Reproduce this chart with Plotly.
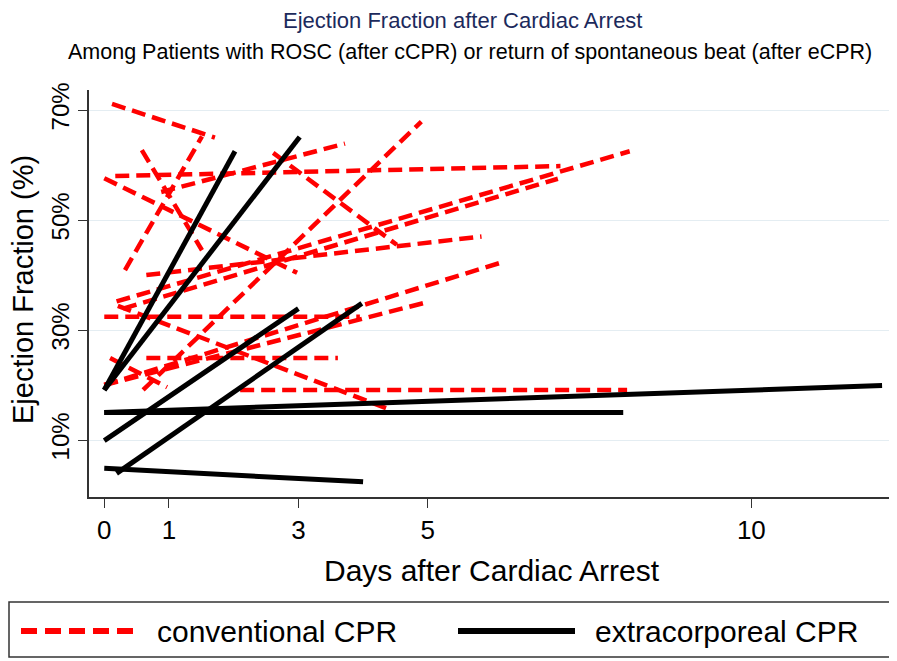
import plotly.graph_objects as go

# conventional CPR: first and last ejection fraction per patient (days, %)
ccpr_day_start = [0.12, 0.32, 0.58, 0.0, 0.17, 0.88, 0.6, 2.61, 0.65, 0.19, 0.29, 0.0, 0.21, 0.0, 0.0, 0.09, 0.65, 2.1]
ccpr_ef_start = [71.1, 40.9, 62.7, 57.6, 58.0, 55.1, 19.1, 62.2, 40.0, 35.2, 33.9, 32.4, 34.4, 20.0, 20.0, 24.9, 24.9, 19.1]
ccpr_day_end = [1.71, 1.51, 1.51, 2.98, 7.05, 3.72, 4.9, 4.52, 5.83, 8.12, 7.01, 3.95, 4.43, 6.17, 5.0, 0.97, 3.61, 8.08]
ccpr_ef_end = [65.0, 65.2, 44.5, 40.4, 59.8, 63.9, 67.9, 45.5, 47.0, 62.5, 57.5, 32.4, 15.45, 42.4, 35.1, 19.6, 24.9, 19.1]

# extracorporeal CPR
ecpr_day_start = [0.0, 0.0, 0.0, 0.0, 0.0, 0.19, 0.0]
ecpr_ef_start = [19.1, 19.1, 15.0, 15.0, 4.85, 3.94, 9.9]
ecpr_day_end = [2.02, 3.02, 8.02, 12.02, 4.0, 3.98, 3.0]
ecpr_ef_end = [62.5, 65.1, 15.0, 19.9, 2.4, 34.85, 33.9]

x_ticks = [0, 1, 3, 5, 10]
y_ticks = [10, 30, 50, 70]
y_labels = ["10%", "30%", "50%", "70%"]

FONT = "Liberation Sans, Arial, sans-serif"


def segments(d0, e0, d1, e1):
    xs, ys = [], []
    for a, b, c, d in zip(d0, e0, d1, e1):
        xs += [a, c, None]
        ys += [b, d, None]
    return xs, ys


fig = go.Figure()

cx, cy = segments(ccpr_day_start, ccpr_ef_start, ccpr_day_end, ccpr_ef_end)
fig.add_trace(go.Scatter(x=cx, y=cy, mode="lines", name="conventional CPR",
                         line=dict(color="#ff0000", width=4.5, dash="14px,7px"),
                         showlegend=False))

ex, ey = segments(ecpr_day_start, ecpr_ef_start, ecpr_day_end, ecpr_ef_end)
fig.add_trace(go.Scatter(x=ex, y=ey, mode="lines", name="extracorporeal CPR",
                         line=dict(color="#000000", width=5),
                         showlegend=False))

# the page body adds an 8px margin, so the figure is a bit smaller
OFF = 8
W, H = 897 - OFF, 661 - OFF
L, R, T, B = 89 - OFF, 2, 90 - OFF, 164
pw, ph = W - L - R, H - T - B


def px(x):  # window pixel -> paper x
    return (x - OFF - L) / pw


def py(y):  # window pixel -> paper y
    return (H - B - (y - OFF)) / ph


# legend box drawn by hand (Stata style)
fig.add_shape(type="rect", xref="paper", yref="paper",
              x0=px(9), x1=px(893), y0=py(602), y1=py(657),
              line=dict(color="#333333", width=1.5), fillcolor="white")
fig.add_shape(type="line", xref="paper", yref="paper",
              x0=px(21), x1=px(136), y0=py(631), y1=py(631),
              line=dict(color="#ff0000", width=6, dash="16px,8px"))
fig.add_shape(type="line", xref="paper", yref="paper",
              x0=px(458), x1=px(575), y0=py(631), y1=py(631),
              line=dict(color="#000000", width=6))

annotations = [
    dict(text="Ejection Fraction after Cardiac Arrest", x=px(462), y=py(20),
         font=dict(size=22, color="#1c2a5c", family=FONT)),
    dict(text="Among Patients with ROSC (after cCPR) or return of spontaneous beat (after eCPR)",
         x=px(470), y=py(52), font=dict(size=21.5, color="black", family=FONT)),
    dict(text="Days after Cardiac Arrest", x=px(492), y=py(570),
         font=dict(size=30, color="black", family=FONT)),
    dict(text="Ejection Fraction (%)", x=px(23), y=py(290), textangle=-90,
         font=dict(size=29, color="black", family=FONT)),
    dict(text="conventional CPR", x=px(155), y=py(631), xanchor="left",
         font=dict(size=30, color="black", family=FONT)),
    dict(text="extracorporeal CPR", x=px(593), y=py(631), xanchor="left",
         font=dict(size=30, color="black", family=FONT)),
]
for a in annotations:
    a.setdefault("xanchor", "center")
    a.update(xref="paper", yref="paper", yanchor="middle", showarrow=False)

fig.update_layout(
    width=W, height=H,
    margin=dict(l=L, r=R, t=T, b=B, pad=0),
    paper_bgcolor="white", plot_bgcolor="white",
    font=dict(family=FONT, color="black"),
    annotations=annotations,
    showlegend=False,
)
fig.update_xaxes(range=[-0.236, 12.22], tickvals=x_ticks, ticks="outside",
                 ticklen=9, tickwidth=1.3, tickcolor="#333333",
                 showline=True, linecolor="#333333", linewidth=1.5,
                 showgrid=False, zeroline=False,
                 tickfont=dict(size=26, color="black"))
fig.update_yaxes(range=[-0.36, 73.64], tickvals=y_ticks, ticktext=y_labels,
                 ticks="outside", ticklen=9, tickwidth=1.3, tickcolor="#333333",
                 tickangle=-90, showline=True, linecolor="#333333", linewidth=1.5,
                 showgrid=True, gridcolor="#e4edf2", gridwidth=1.2, zeroline=False,
                 tickfont=dict(size=24, color="black"))

fig.write_html("out.html")
